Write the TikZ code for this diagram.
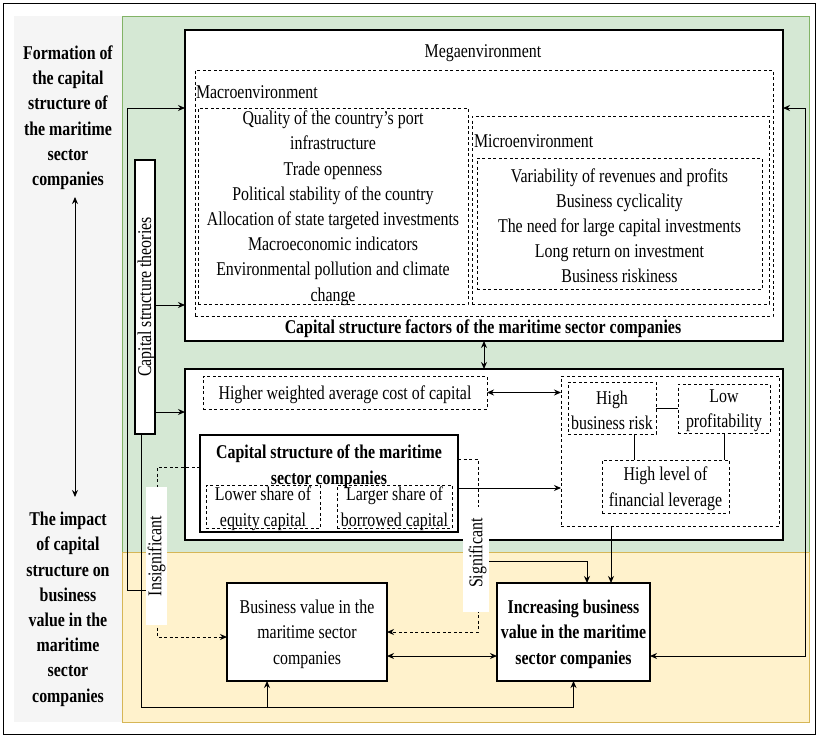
\documentclass[tikz,border=0pt]{standalone}
\usepackage{fontspec}
\setmainfont{Liberation Serif}[FakeStretch=0.815]
\usetikzlibrary{arrows.meta}
\definecolor{gfill}{HTML}{D5E8D4}
\definecolor{gline}{HTML}{82B366}
\definecolor{yfill}{HTML}{FFF2CC}
\definecolor{yline}{HTML}{D6B656}
\definecolor{pgrey}{HTML}{F5F5F5}
\begin{document}
\begin{tikzpicture}[x=1pt,y=-1pt,
  every node/.style={font=\fontsize{19.5}{25.2}\selectfont, inner sep=0pt, outer sep=0pt},
  bfnt/.style={font=\fontsize{19.5}{25.2}\selectfont\bfseries},
  sbox/.style={draw=black, line width=1.2pt, fill=white},
  dbox/.style={draw=black, line width=1pt, dash pattern=on 3pt off 2.5pt},
  txt/.style={align=center, yshift=-2.2pt},
  ln/.style={draw=black, line width=1pt},
  dln/.style={dash pattern=on 3pt off 2.5pt},
  arr/.style={ln, -{Stealth[length=7pt,width=6pt]}},
  darr/.style={ln, {Stealth[length=7pt,width=6pt]}-{Stealth[length=7pt,width=6pt]}},
  lbl/.style={fill=white, rotate=90},
]
\useasboundingbox (0,0) rectangle (817,736);
% frame and panels
\draw[line width=1pt] (3,3) rectangle (815,734);
\fill[pgrey] (14,16) rectangle (122,722);
\filldraw[fill=gfill, draw=gline, line width=1pt] (122,16) rectangle (809,552);
\filldraw[fill=yfill, draw=yline, line width=1pt] (122,552) rectangle (809,722);

% left panel texts
\node[bfnt, txt] (formation) at (68,115.5) {Formation of\\the capital\\structure of\\the maritime\\sector\\companies};
\node[bfnt, txt] (impact) at (68,607) {The impact\\of capital\\structure on\\business\\value in the\\maritime\\sector\\companies};
\coordinate (lA) at (75,197);
\coordinate (lB) at (75,497);
\draw[darr] (lA) -- (lB);

% megaenvironment
\node[sbox, minimum width=598pt, minimum height=311pt] (mega) at (484,185.5) {};
\node[txt] (megat) at (483,51) {Megaenvironment};
\node[dbox, minimum width=578pt, minimum height=246pt] (macro) at (484,193) {};
\node[txt, anchor=west] (macrot) at (196,90) {Macroenvironment};
\node[dbox, minimum width=270pt, minimum height=196pt] (macroitems) at (333,206) {};
\node[txt] (macroitemst) at (macroitems)
  {Quality of the country's port\\infrastructure\\Trade openness\\Political stability of the country\\Allocation of state targeted investments\\Macroeconomic indicators\\Environmental pollution and climate\\change};
\node[dbox, minimum width=297pt, minimum height=188pt] (micro) at (620.5,210) {};
\node[txt, anchor=west] (microt) at (474,139) {Microenvironment};
\node[dbox, minimum width=285pt, minimum height=131pt] (microitems) at (619.5,223.5) {};
\node[txt] (microitemst) at (microitems)
  {Variability of revenues and profits\\Business cyclicality\\The need for large capital investments\\Long return on investment\\Business riskiness};
\node[bfnt, txt] (factors) at (483,327) {Capital structure factors of the maritime sector companies};

% lower box
\node[sbox, minimum width=598pt, minimum height=171pt] (lower) at (484,454.5) {};
\node[dbox, minimum width=284pt, minimum height=33pt] (wacc) at (345,392.5) {};
\node[txt] (wacct) at (wacc) {Higher weighted average cost of capital};
\node[dbox, minimum width=218pt, minimum height=150pt] (rgroup) at (670,451) {};
\node[dbox, minimum width=88pt, minimum height=52pt] (hbr) at (612,408) {};
\node[txt] (hbrt) at (hbr) {High\\business risk};
\node[dbox, minimum width=92pt, minimum height=49pt] (lp) at (724,408.5) {};
\node[txt] (lpt) at (lp) {Low\\profitability};
\node[dbox, minimum width=127pt, minimum height=53pt] (hlfl) at (665.5,486.5) {};
\node[txt] (hlflt) at (hlfl) {High level of\\financial leverage};
\node[sbox, minimum width=258pt, minimum height=97pt] (cs) at (329,483.5) {};
\node[bfnt, txt] (cst) at (329,464.5) {Capital structure of the maritime\\sector companies};
\node[dbox, minimum width=114pt, minimum height=43pt] (lsh) at (263,506.5) {};
\node[txt] (lsht) at (lsh) {Lower share of\\equity capital};
\node[dbox, minimum width=115pt, minimum height=43pt] (lgsh) at (394.5,506.5) {};
\node[txt] (lgsht) at (lgsh) {Larger share of\\borrowed capital};

% theories
\node[sbox, minimum width=20pt, minimum height=274pt] (theo) at (145,297) {};
\node[rotate=90] (theot) at (146.5,297) {Capital structure theories};

% bottom boxes
\node[sbox, minimum width=160pt, minimum height=98pt] (bv) at (307,632) {};
\node[txt] (bvt) at (bv) {Business value in the\\maritime sector\\companies};
\node[sbox, minimum width=153pt, minimum height=98pt] (inc) at (573.5,632) {};
\node[bfnt, txt] (inct) at (inc) {Increasing business\\value in the maritime\\sector companies};

% connectors
\coordinate (tA) at (146,590);
\coordinate (tB) at (127,590);
\coordinate (tC) at (127,108);
\draw[arr] (tA) -- (tB) -- (tC) -- (tC -| mega.west);
\coordinate (y305) at (0,305);
\draw[arr] (theo.east |- y305) -- (mega.west |- y305);
\coordinate (y412) at (0,412);
\draw[arr] (theo.east |- y412) -- (lower.west |- y412);
\coordinate (bA) at (141,707);
\coordinate (x267) at (267,0);
\draw[arr] (bA |- theo.south) -- (bA) -- (bA -| inc.south) -- (inc.south);
\draw[arr] (bA -| x267) -- (x267 |- bv.south);
\draw[darr] (mega.south) -- (lower.north);
\draw[darr] (wacc.east) -- (wacc.east -| rgroup.west);
\coordinate (y488) at (0,488);
\draw[arr] (cs.east |- y488) -- (rgroup.west |- y488);
\draw[ln] (hbr.east) -- (hbr.east -| lp.west);
\coordinate (x634) at (634,0);
\draw[ln] (x634 |- hbr.south) -- (x634 |- hlfl.north);
\draw[ln] (lp.south) -- (lp.south |- hlfl.north);
\coordinate (x611) at (611,0);
\draw[arr] (x611 |- rgroup.south) -- (x611 |- inc.north);
\coordinate (sA) at (489,561);
\coordinate (sB) at (587,561);
\draw[arr] (sA) -- (sB) -- (sB |- inc.north);
\coordinate (rA) at (805,108);
\coordinate (rB) at (805,656);
\draw[darr] (rA -| mega.east) -- (rA) -- (rB) -- (rB -| inc.east);
\draw[darr] (bv.east |- rB) -- (inc.west |- rB);
\coordinate (iA) at (157,467);
\coordinate (iB) at (157,637);
\draw[arr, dln] (iA -| cs.west) -- (iA) -- (iB) -- (iB -| bv.west);
\coordinate (gA) at (478,459);
\coordinate (gB) at (478,632);
\draw[arr, dln] (gA -| cs.east) -- (gA) -- (gB) -- (gB -| bv.east);

% labels on connectors
\node[lbl, minimum width=138pt, minimum height=21pt] (insig) at (156.5,556) {Insignificant};
\node[lbl, minimum width=105pt, minimum height=26pt] (sig) at (476,559.5) {};
\node[rotate=90] (sigt) at (477.5,553) {Significant};
\end{tikzpicture}
\end{document}
